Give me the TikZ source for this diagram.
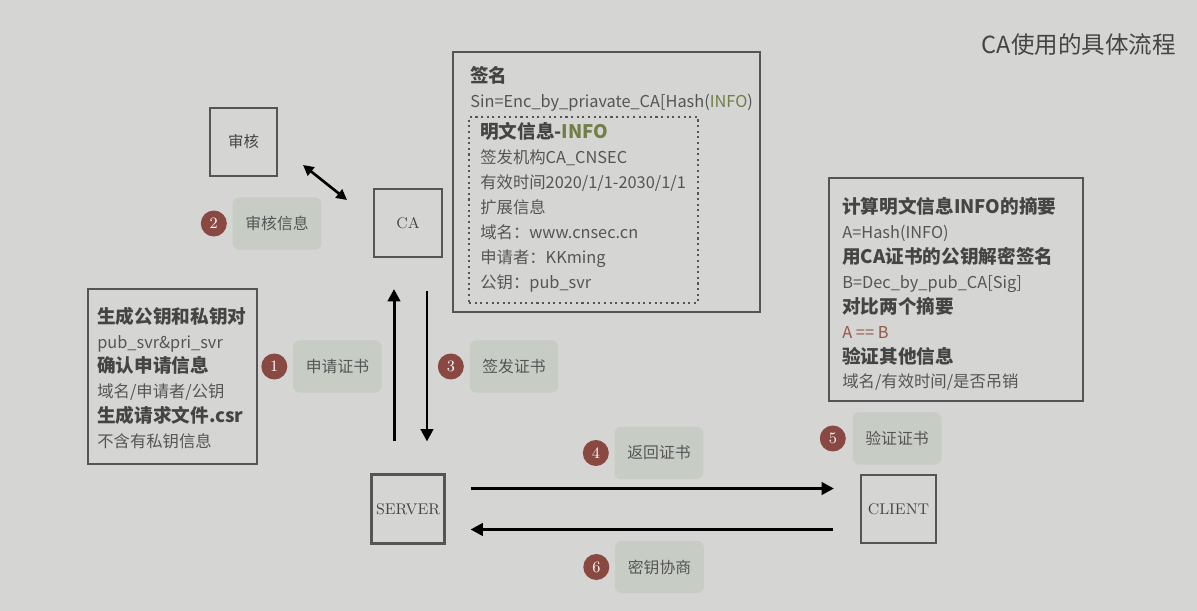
\documentclass[tikz,border=0pt]{standalone}
\usepackage{fontspec}
\newfontfamily\cjk{Noto Sans CJK SC}
\usetikzlibrary{positioning,arrows.meta}
\definecolor{bgcol}{RGB}{213,213,211}
\definecolor{inkcol}{RGB}{85,85,85}
\definecolor{headcol}{RGB}{68,68,68}
\definecolor{tagcol}{RGB}{199,205,196}
\definecolor{dotcol}{RGB}{138,72,66}
\definecolor{infocol}{RGB}{112,126,72}
\definecolor{eqcol}{RGB}{150,85,75}
\tikzset{
  frame/.style={draw=inkcol, line width=1.2pt, inner sep=0pt, text=headcol, font=\fontsize{8.8}{10}\selectfont},
  tag/.style={fill=tagcol, rounded corners=4pt, minimum width=1.78cm, minimum height=1.05cm, text=inkcol, font=\cjk\fontsize{9}{10}\selectfont},
  num/.style={circle, fill=dotcol, minimum size=0.52cm, inner sep=0pt, text=white, font=\fontsize{9}{10}\selectfont},
  info/.style={align=left, anchor=west, inner sep=0pt, text=inkcol, font=\cjk\fontsize{9.3}{14.2}\selectfont},
  arr/.style={-{Triangle[length=7pt,width=7pt]}, line width=1.7pt},
  dbl/.style={{Triangle[length=6pt,width=6pt]}-{Triangle[length=6pt,width=6pt]}, line width=1.5pt},
}
\newcommand\hd[1]{{\color{headcol}\bfseries\fontsize{10.6}{14.2}\selectfont #1}}

\begin{document}
\begin{tikzpicture}[x=0.02cm, y=-0.02cm]
  \fill[bgcol] (0,0) rectangle (1197,611);
  \useasboundingbox (0,0) rectangle (1197,611);
  \node[anchor=east, text=headcol, font=\cjk\fontsize{13.4}{15}\selectfont] (title) at (1182,45) {CA使用的具体流程};

  % parties
  \node[frame, minimum width=1.34cm, minimum height=1.36cm] (audit) at (243.5,142) {\cjk 审核};
  \node[frame, minimum width=1.36cm, minimum height=1.36cm] (ca) at (408,223) {CA};
  \node[frame, minimum width=1.46cm, minimum height=1.38cm] (server) at (408,509) {SERVER};
  \node[frame, minimum width=1.5cm, minimum height=1.36cm] (client) at (898.5,509) {CLIENT};

  % certificate
  \node[frame, minimum width=6.14cm, minimum height=5.2cm] (sign) at (606.5,182) {};
  \node[draw=inkcol, dotted, line width=1.2pt, minimum width=4.58cm, minimum height=3.72cm] (plain) at (583.5,210) {};
  \node[info] (signtxt) at (470,89) {\hd{签名}\\Sin=Enc\_by\_priavate\_CA[Hash(\textcolor{infocol}{INFO})};
  \node[info] (plaintxt) at (480,207.5) {\hd{明文信息-\textcolor{infocol}{INFO}}\\签发机构CA\_CNSEC\\有效时间2020/1/1-2030/1/1\\扩展信息\\域名：www.cnsec.cn\\申请者：KKming\\公钥：pub\_svr};

  % server side steps
  \node[frame, minimum width=3.38cm, minimum height=3.5cm] (gen) at (172.5,376.5) {};
  \node[info] (gentxt) at (97,378) {\hd{生成公钥和私钥对}\\pub\_svr\&pri\_svr\\\hd{确认申请信息}\\域名/申请者/公钥\\\hd{生成请求文件.csr}\\不含有私钥信息};

  % client side checks
  \node[frame, minimum width=5.08cm, minimum height=4.46cm] (check) at (956,289.5) {};
  \node[info] (checktxt) at (842,294) {\hd{计算明文信息INFO的摘要}\\A=Hash(INFO)\\\hd{用CA证书的公钥解密签名}\\B=Dec\_by\_pub\_CA[Sig]\\\hd{对比两个摘要}\\\textcolor{eqcol}{A == B}\\\hd{验证其他信息}\\域名/有效时间/是否吊销};

  % step labels
  \node[tag] (apply) at (337.5,366.5) {申请证书};
  \node[tag] (review) at (277,223.5) {审核信息};
  \node[tag] (issue) at (514,366.5) {签发证书};
  \node[tag] (back) at (659,453) {返回证书};
  \node[tag] (verify) at (897,438.5) {验证证书};
  \node[tag] (nego) at (659.5,567) {密钥协商};
  \node[num, left=0.1cm of apply] (n1) {1};
  \node[num, left=0.1cm of review] (n2) {2};
  \node[num, left=0.1cm of issue] (n3) {3};
  \node[num, left=0.1cm of back] (n4) {4};
  \node[num, left=0.12cm of verify] (n5) {5};
  \node[num, left=0.1cm of nego] (n6) {6};

  % flows
  \coordinate (da) at (303,165);
  \coordinate (db) at (347,200);
  \draw[dbl] (da) -- (db);
  \draw[arr, shorten <=0.64cm, shorten >=0.62cm] ([xshift=-0.28cm]server.north) -- ([xshift=-0.28cm]ca.south);
  \draw[arr, shorten <=0.66cm, shorten >=0.64cm] ([xshift=0.38cm]ca.south) -- ([xshift=0.38cm]server.north);
  \draw[arr, shorten <=0.5cm, shorten >=0.52cm] ([yshift=0.41cm]server.east) -- ([yshift=0.41cm]client.west);
  \draw[arr, shorten <=0.54cm, shorten >=0.5cm] ([yshift=-0.41cm]client.west) -- ([yshift=-0.41cm]server.east);
\end{tikzpicture}
\end{document}
